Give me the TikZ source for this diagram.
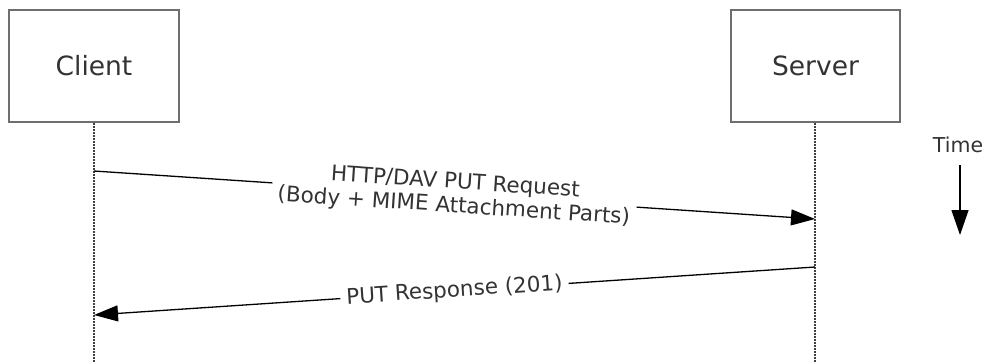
\documentclass[tikz,border=0pt]{standalone}
\usepackage{fontspec}
\setmainfont{DejaVu Sans}
\usetikzlibrary{arrows.meta}
\definecolor{txt}{HTML}{333333}
\definecolor{boxgray}{HTML}{6E6E6E}
\definecolor{lifegray}{HTML}{404040}
\begin{document}
\begin{tikzpicture}[x=1pt,y=-1pt,
  actor/.style={draw=boxgray, line width=2pt, minimum width=170pt, minimum height=112pt, inner sep=0pt, text=txt, font=\fontsize{26.5}{30}\selectfont},
  lifeline/.style={draw=lifegray, line width=1.5pt, dash pattern=on 1.5pt off 1.5pt},
  msg/.style={draw=black, line width=1.3pt, -{Triangle[length=24pt,width=16pt]}},
  msglabel/.style={sloped, fill=white, inner xsep=6pt, inner ysep=2pt, text=txt, align=center, font=\fontsize{21.5}{24}\selectfont}]
\useasboundingbox (0,0) rectangle (987,362);
\node[actor] (client) at (94,66) {Client};
\node[actor, minimum width=169pt] (server) at (815.5,66) {Server};
\coordinate (cend) at (94,362);
\coordinate (send) at (815,362);
\draw[lifeline] (client.south) -- (cend);
\draw[lifeline] (server.south -| send) -- (send);
\coordinate (req1) at (94,171);
\coordinate (req2) at (815,219);
\coordinate (res1) at (815,267);
\coordinate (res2) at (94,315);
\draw[msg] (req1) -- node[msglabel] {HTTP/DAV PUT Request\\(Body + MIME Attachment Parts)} (req2);
\draw[msg] (res1) -- node[msglabel] {PUT Response (201)} (res2);
\node[text=txt, font=\fontsize{20.5}{24}\selectfont, inner sep=0pt] (time) at (958,145) {Time};
\coordinate (tstart) at (960,165);
\coordinate (tend) at (960,235);
\draw[msg, -{Triangle[length=25pt,width=17pt]}] (tstart) -- (tend);
\end{tikzpicture}
\end{document}
